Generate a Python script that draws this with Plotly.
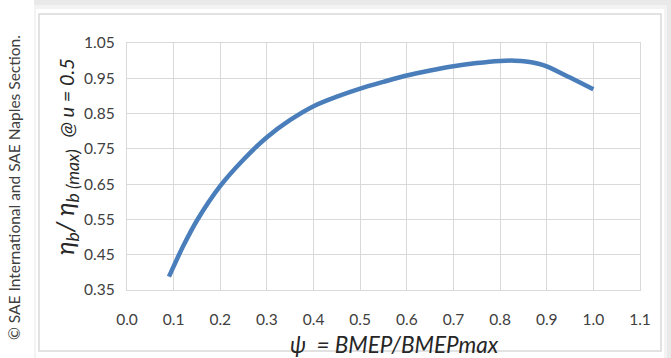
import plotly.graph_objects as go

# Data
psi = [0.09, 0.10, 0.12, 0.15, 0.20, 0.25, 0.30, 0.35, 0.40, 0.45, 0.50, 0.55, 0.60,
       0.65, 0.70, 0.75, 0.80, 0.83, 0.86, 0.88, 0.90, 0.95, 1.00]
eta_ratio = [0.388, 0.417, 0.473, 0.547, 0.645, 0.720, 0.783, 0.832, 0.871, 0.898, 0.921,
             0.940, 0.958, 0.972, 0.984, 0.993, 0.999, 1.000, 0.997, 0.992, 0.984, 0.952, 0.919]

x_ticks = [0.0, 0.1, 0.2, 0.3, 0.4, 0.5, 0.6, 0.7, 0.8, 0.9, 1.0, 1.1]
y_ticks = [0.35, 0.45, 0.55, 0.65, 0.75, 0.85, 0.95, 1.05]

W, H = 671, 358
L, R, T, B = 127, 31, 43, 68
pw, ph = W - L - R, H - T - B

def px(x):
    return (x - L) / pw

def py(y):
    return (H - B - y) / ph

FONT = "Lato, Carlito, 'Liberation Sans', sans-serif"
GRID = "#d9d9d9"
TXT = "#404040"

fig = go.Figure()
fig.add_trace(go.Scatter(
    x=psi, y=eta_ratio, mode="lines",
    line=dict(color="#4A7EBB", width=4.5, shape="spline", smoothing=0.8),
    hoverinfo="skip", showlegend=False,
))

shapes = [
    dict(type="rect", xref="paper", yref="paper",
         x0=px(34), x1=px(671), y0=py(358), y1=py(0),
         fillcolor="#e9e9e9", line=dict(width=0), layer="below"),
    dict(type="rect", xref="paper", yref="paper",
         x0=px(34), x1=px(667), y0=py(358), y1=py(5),
         fillcolor="#f3f3f3", line=dict(width=0), layer="below"),
    dict(type="rect", xref="paper", yref="paper",
         x0=px(36), x1=px(664), y0=py(358), y1=py(9),
         fillcolor="#ffffff", line=dict(width=0), layer="below"),
    dict(type="rect", xref="paper", yref="paper",
         x0=px(39), x1=px(661), y0=py(351), y1=py(14),
         fillcolor="rgba(0,0,0,0)", line=dict(color="#d9d9d9", width=1.5), layer="below"),
]

annotations = [
    dict(text="<i>η<sub>b</sub>/ η<sub>b (max)</sub>  <span style='font-size:20px'>@ u = 0.5</span></i>",
         xref="paper", yref="paper", x=px(66), y=py(157), textangle=-90,
         showarrow=False, font=dict(family=FONT, size=25, color="#262626"),
         xanchor="center", yanchor="middle"),
    dict(text="<i>ψ  = BMEP/BMEPmax</i>",
         xref="paper", yref="paper", x=px(394), y=py(344),
         showarrow=False, font=dict(family=FONT, size=22.5, color="#262626"),
         xanchor="center", yanchor="middle"),
    dict(text="© SAE International and SAE Naples Section.",
         xref="paper", yref="paper", x=px(14), y=py(188), textangle=-90,
         showarrow=False, font=dict(family=FONT, size=15.5, color="#404040"),
         xanchor="center", yanchor="middle"),
]

fig.update_layout(
    width=W, height=H,
    margin=dict(l=L, r=R, t=T, b=B),
    paper_bgcolor="white", plot_bgcolor="white",
    shapes=shapes, annotations=annotations,
    font=dict(family=FONT, size=14, color=TXT),
    xaxis=dict(range=[0, 1.1], tickvals=x_ticks,
               ticktext=[f"{v:.1f}" for v in x_ticks],
               showgrid=True, gridcolor=GRID, gridwidth=1.3,
               zeroline=False, showline=True, linecolor=GRID, linewidth=1.3, mirror=True,
               ticks="outside", ticklen=15, tickcolor="rgba(0,0,0,0)",
               tickfont=dict(family=FONT, size=15.5, color=TXT)),
    yaxis=dict(range=[0.35, 1.05], tickvals=y_ticks,
               ticktext=[f"{v:.2f}" for v in y_ticks],
               showgrid=True, gridcolor=GRID, gridwidth=1.3,
               zeroline=False, showline=True, linecolor=GRID, linewidth=1.3, mirror=True,
               ticks="outside", ticklen=8, tickcolor="rgba(0,0,0,0)",
               tickfont=dict(family=FONT, size=15.5, color=TXT)),
)

fig.write_html("out.html")
